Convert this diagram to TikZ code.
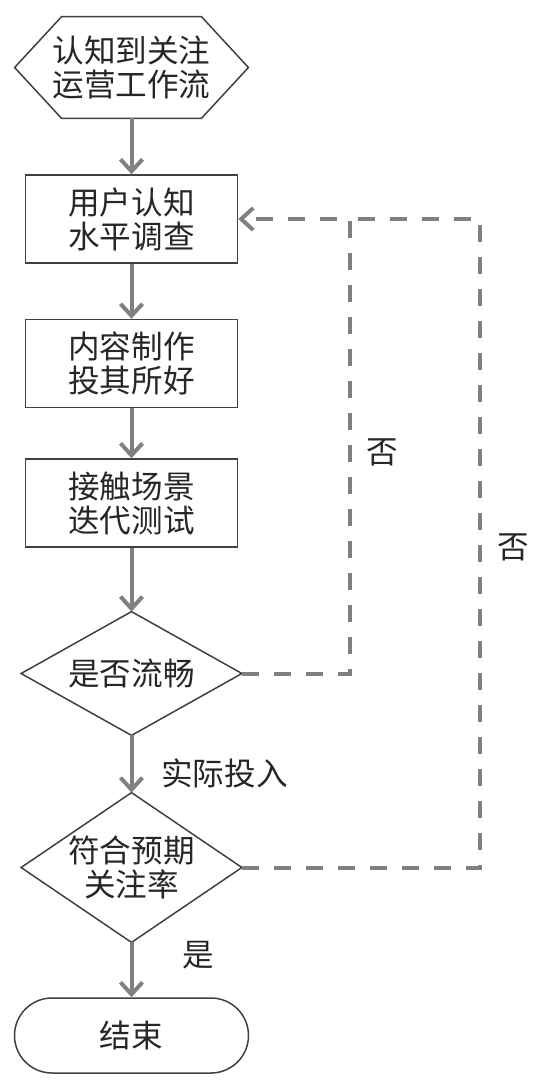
\documentclass[tikz,border=0pt]{standalone}
\usepackage{fontspec}
\newfontfamily\cjk{Noto Sans CJK SC}
\usetikzlibrary{arrows.meta}

\begin{document}
\begin{tikzpicture}[x=0.5pt,y=-0.5pt,
  txt/.style={font=\cjk\fontsize{15.8}{17}\selectfont, text=black!85, align=center, inner sep=0pt},
  outline/.style={draw=black!75, line width=0.75pt},
  stepbox/.style={txt, outline, minimum width=106pt, minimum height=44pt},
  flow/.style={draw=black!50, line width=2pt, -{Straight Barb[length=6pt, width=11pt]}},
  back/.style={flow, dash pattern=on 8.5pt off 7.5pt}]
\useasboundingbox (0,0) rectangle (534,1084);
\node[txt, minimum width=116.5pt, minimum height=50.5pt] (start) at (131.5,67.5) {认知到关注\\运营工作流};
\draw[outline] (start.west) -- ([xshift=23.5pt]start.north west) -- ([xshift=-23.5pt]start.north east) -- (start.east)
  -- ([xshift=-23.5pt]start.south east) -- ([xshift=23.5pt]start.south west) -- cycle;
\node[stepbox] (survey) at (131.5,219) {用户认知\\水平调查};
\node[stepbox] (content) at (131.5,363.5) {内容制作\\投其所好};
\node[stepbox] (scene) at (131.5,503) {接触场景\\迭代测试};
\node[txt, minimum width=110pt, minimum height=61.5pt] (smooth) at (131.5,673.5) {是否流畅};
\draw[outline] (smooth.west) -- (smooth.north) -- (smooth.east) -- (smooth.south) -- cycle;
\node[txt, minimum width=110pt, minimum height=74.5pt] (expect) at (131.5,867.5) {符合预期\\关注率};
\draw[outline] (expect.west) -- (expect.north) -- (expect.east) -- (expect.south) -- cycle;
\node[txt, outline, rounded corners=18.75pt, minimum width=117pt, minimum height=37.5pt] (finish) at (131.5,1035.5) {结束};
\draw[flow] (start) -- (survey);
\draw[flow] (survey) -- (content);
\draw[flow] (content) -- (scene);
\draw[flow] (scene) -- (smooth);
\draw[flow] (smooth) -- (expect);
\draw[flow] (expect) -- (finish);
\node[txt] (invest) at (224.5,773) {实际投入};
\node[txt] (yes) at (198,955) {是};
\coordinate (inner) at (350,219);
\coordinate (outer) at (480,219);
\draw[back] (smooth.east) -- (smooth.east -| inner) -- (inner) -- (survey.east);
\draw[back, -] (expect.east) -- (expect.east -| outer) -- (outer) -- (inner);
\node[txt] (no1) at (382,452) {否};
\node[txt] (no2) at (513,547) {否};
\end{tikzpicture}
\end{document}
